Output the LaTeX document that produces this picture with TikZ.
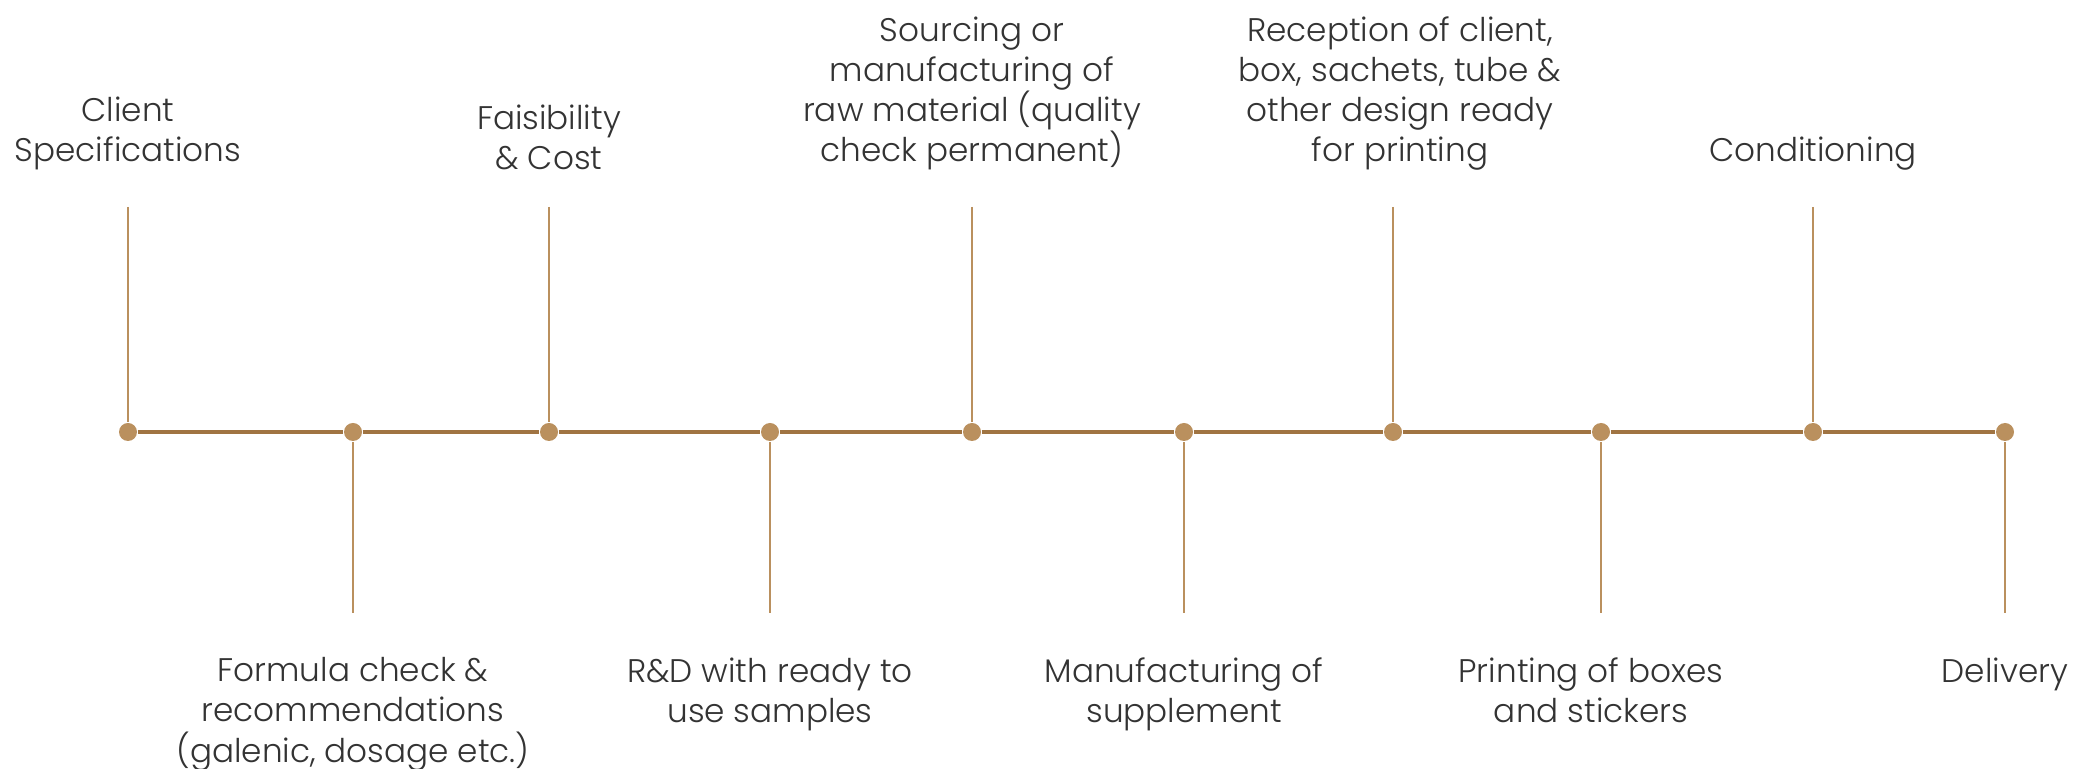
\documentclass[tikz,border=0pt]{standalone}
\usepackage{fontspec}
\setmainfont{Poppins}[UprightFont=* Light]
\usetikzlibrary{positioning}
\definecolor{tanline}{RGB}{160,116,66}
\definecolor{tanstem}{RGB}{186,144,94}
\definecolor{labelgray}{RGB}{51,51,51}

\begin{document}
\begin{tikzpicture}[node distance=1cm]
  \tikzstyle{stepdot}=[circle,fill=tanstem,inner sep=0pt,minimum size=1.8mm]
  \tikzstyle{stem}=[draw=tanstem,line width=0.7pt]
  \tikzstyle{timeline}=[draw=tanline,line width=1pt]
  \tikzstyle{toplabel}=[align=center,inner sep=0pt,text=labelgray,font=\fontsize{9.3}{11.4}\selectfont]
  \useasboundingbox (0,0) rectangle (20.96,-7.69);

  % dots
  \node[stepdot] (d1) at (1.28,-4.32) {};
  \node[stepdot] (d2) at (3.53,-4.32) {};
  \node[stepdot] (d3) at (5.49,-4.32) {};
  \node[stepdot] (d4) at (7.70,-4.32) {};
  \node[stepdot] (d5) at (9.72,-4.32) {};
  \node[stepdot] (d6) at (11.84,-4.32) {};
  \node[stepdot] (d7) at (13.93,-4.32) {};
  \node[stepdot] (d8) at (16.01,-4.32) {};
  \node[stepdot] (d9) at (18.13,-4.32) {};
  \node[stepdot] (d10) at (20.05,-4.32) {};

  % stem ends
  \coordinate (s1) at (1.28,-2.07);
  \coordinate (s2) at (3.53,-6.13);
  \coordinate (s3) at (5.49,-2.07);
  \coordinate (s4) at (7.70,-6.13);
  \coordinate (s5) at (9.72,-2.07);
  \coordinate (s6) at (11.84,-6.13);
  \coordinate (s7) at (13.93,-2.07);
  \coordinate (s8) at (16.01,-6.13);
  \coordinate (s9) at (18.13,-2.07);
  \coordinate (s10) at (20.05,-6.13);

  % labels
  \node[toplabel, above=0.36cm of s1] (client) {Client\\Specifications};
  \node[toplabel, below=0.44cm of s2] (formula) {Formula check \&\\recommendations\\(galenic, dosage etc.)};
  \node[toplabel, above=0.36cm of s3] (cost) {Faisibility\\\& Cost};
  \node[toplabel, below=0.44cm of s4] (rnd) {R\&D with ready to\\use samples};
  \node[toplabel, above=0.36cm of s5] (sourcing) {Sourcing or\\manufacturing of\\raw material (quality\\check permanent)};
  \node[toplabel, below=0.44cm of s6] (manuf) {Manufacturing of\\supplement};
  \node[toplabel, above=0.36cm of s7, xshift=0.07cm] (reception) {Reception of client,\\box, sachets, tube \&\\other design ready\\for printing};
  \node[toplabel, below=0.44cm of s8, xshift=-0.1cm] (printing) {Printing of boxes\\and stickers};
  \node[toplabel, above=0.36cm of s9] (cond) {Conditioning};
  \node[toplabel, below=0.44cm of s10] (delivery) {Delivery};

  % edges
  \draw[timeline] (d1) -- (d2);
  \draw[timeline] (d2) -- (d3);
  \draw[timeline] (d3) -- (d4);
  \draw[timeline] (d4) -- (d5);
  \draw[timeline] (d5) -- (d6);
  \draw[timeline] (d6) -- (d7);
  \draw[timeline] (d7) -- (d8);
  \draw[timeline] (d8) -- (d9);
  \draw[timeline] (d9) -- (d10);

  \draw[stem] (s1) -- (d1);
  \draw[stem] (s2) -- (d2);
  \draw[stem] (s3) -- (d3);
  \draw[stem] (s4) -- (d4);
  \draw[stem] (s5) -- (d5);
  \draw[stem] (s6) -- (d6);
  \draw[stem] (s7) -- (d7);
  \draw[stem] (s8) -- (d8);
  \draw[stem] (s9) -- (d9);
  \draw[stem] (s10) -- (d10);

\end{tikzpicture}
\end{document}
